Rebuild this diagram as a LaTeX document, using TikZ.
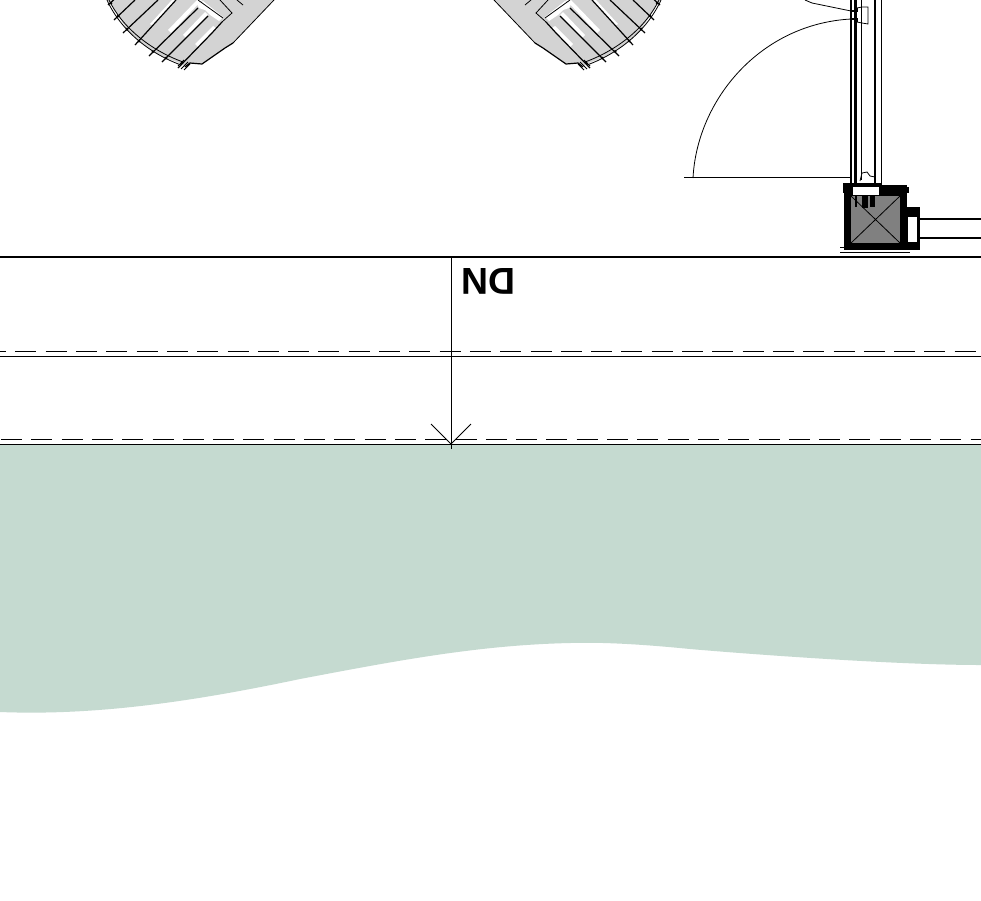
\documentclass[tikz,border=0pt]{standalone}
\usepackage{fontspec}
\setmainfont{Liberation Sans}
\definecolor{ground}{RGB}{197,218,208}
\definecolor{fangray}{RGB}{211,211,211}
\definecolor{colgray}{RGB}{128,128,128}
\newcommand{\fanplan}{%
  % hull
  \fill[fangray] (107,0) -- (111,3) -- (118,16) -- (127,29) -- (139,41) -- (153,51) -- (166,58) -- (182,64) -- (185,67) -- (190,63) -- (202,64) -- (225,48) -- (233,43) -- (274,0) -- cycle;
  \draw[thinline] (274,0) -- (233,43);
  \draw[midline] (233,43) -- (225,48) -- (202,64) -- (190,63) -- (185,67);
  % arcs
  \draw[thinline] (109,0) .. controls (122,27) and (150,50) .. (183,62);
  \draw[thinline] (107,0) .. controls (120,29) and (148,53) .. (181,65);
  % white slivers
  \fill[white] (150,24) -- (172,0) -- (176,0) -- (153,26) -- cycle;
  \fill[white] (168,30) -- (197,0) -- (202,0) -- (171,33) -- cycle;
  \fill[white] (183,35) -- (205,12) -- (208,15) -- (186,38) -- cycle;
  \fill[white] (195,44) -- (213,26) -- (216,28) -- (198,47) -- cycle;
  \fill[white] (197,4) -- (203,1) -- (223,17) -- (219,21) -- (210,15) -- (205,10) -- (199,8) -- cycle;
  % tread lines, running just past the arc
  \draw[midline] (108,5) -- (118,-4);
  \draw[midline] (114,20) -- (135,0);
  \draw[midline] (123,33) -- (158,0);
  \draw[midline] (135,45) -- (176,0);
  \draw[midline] (149,56) -- (198,8);
  \draw[midline] (162,62) -- (208,16);
  \draw[midline] (178,68) -- (212,33) -- (222,22);
  % knots where the treads meet the arc
  \fill (111,3) circle (1.5pt);
  \fill (118,16) circle (1.5pt);
  \fill (127,29) circle (1.5pt);
  \fill (139,41) circle (1.5pt);
  \fill (153,51.5) circle (1.5pt);
  \fill (166,58) circle (1.5pt);
  \fill (182,63) circle (1.5pt);
  % upper treads
  \draw[thinline] (220,0) -- (232,13) -- (222,22);
  \draw[thinline] (237,0) -- (243,5);
  \draw[thinline] (198,0) -- (223,18);
  % tips
  \draw[thinline] (178,66) -- (184,60);
  \draw[thinline] (181,69) -- (188,62);
  \draw[thinline] (184,70) -- (190,64);
}
\tikzset{
  thinline/.style={draw=black,line width=0.8pt},
  midline/.style={draw=black,line width=1.2pt},
  dashA/.style={draw=black,line width=0.9pt,dash pattern=on 21pt off 9.3pt,dash phase=14.9pt},
  dashB/.style={draw=black,line width=0.9pt,dash pattern=on 21pt off 9.3pt,dash phase=29.3pt},
  dnlabel/.style={font=\fontsize{37.5}{40}\selectfont\bfseries,rotate=180,inner sep=0pt}
}
\begin{document}
\begin{tikzpicture}[x=1pt,y=-1pt]
\useasboundingbox (0,0) rectangle (981,900);
\clip (0,0) rectangle (981,900);
\fill[white] (0,0) rectangle (981,900);

% ground
\fill[ground] (0,444) -- (981,444) -- (981,665)
  .. controls (900,665) and (760,655) .. (690,649)
  .. controls (640,644) and (600,642) .. (570,643)
  .. controls (480,645) and (400,660) .. (300,679)
  .. controls (200,700) and (100,716) .. (0,712) -- cycle;

% fans
\fanplan
\begin{scope}[xshift=768pt,xscale=-1]
\fanplan
\end{scope}

% stair lines
\coordinate (wl) at (0,257);
\coordinate (wr) at (981,257);
\coordinate (a1) at (0,351.5);
\coordinate (a2) at (981,351.5);
\coordinate (b1) at (0,356);
\coordinate (b2) at (981,356);
\coordinate (c1) at (0,439.5);
\coordinate (c2) at (981,439.5);
\coordinate (d1) at (0,444);
\coordinate (d2) at (981,444);
\coordinate (up) at (451,257);
\coordinate (dn) at (451,449);
\coordinate (tipL) at (431,424);
\coordinate (tipR) at (471,424);
\coordinate (tip) at (451,444);
\draw[line width=1.5pt] (wl) -- (wr);
\draw[dashA] (a1) -- (a2);
\draw[thinline] (b1) -- (b2);
\draw[dashB] (c1) -- (c2);
\draw[thinline] (d1) -- (d2);
\draw[thinline] (up) -- (dn);
\draw[thinline] (tipL) -- (tip) -- (tipR);
\node[dnlabel] (dnl) at (488,281.5) {DN};

% door swing
\draw[thinline] (684,177) -- (851,177);
\draw[thinline] (693,178) .. controls (697,100) and (760,24) .. (851,19);
\draw[thinline] (805,0) -- (812,3) -- (851,11);
% frame verticals
\draw[thinline] (850,0) -- (850,184);
\draw[thinline] (851.7,0) -- (851.7,184);
\draw[thinline] (854,0) -- (854,184);
\draw[line width=1.6pt] (856,0) -- (856,184);
\draw[thinline] (861.3,0) -- (861.3,180);
\draw[line width=2pt] (875,0) -- (875,184);
\draw[thinline] (881,0) -- (881,184);
% handle
\draw[thinline] (857,8) -- (862,7) -- (868,7) -- (868,24) -- (862,23) -- (857,22);
\draw[line width=1.5pt] (857,8) -- (857,11) -- (851,11);
\draw[line width=1.5pt] (857,22) -- (857,19) -- (851,19);
% squiggle
\draw[thinline] (860,181) -- (862,173) -- (867,172) -- (870,176) -- (875,177);

% column
\fill[black] (844,185) rectangle (907,250);
\fill[colgray] (851,196) rectangle (900,243);
\draw[thinline] (851,196) -- (900,243);
\draw[thinline] (900,196) -- (851,243);
\fill[black] (843,183) rectangle (853,193);
\fill[black] (850,183) rectangle (882,187);
\fill[black] (879,186) rectangle (897,196);
\fill[black] (898,187) rectangle (909,193);
\fill[white] (853,187) rectangle (879,195);
\fill[black] (855,196) rectangle (857,207);
\fill[black] (862,196) rectangle (868,208);
\fill[black] (870,196) rectangle (875,207);
% side bump
\fill[black] (906,207) rectangle (920,250);
\fill[white] (908,217) rectangle (917,242);
\draw[line width=1.6pt] (917,219) -- (981,219);
\draw[line width=1.6pt] (917,238) -- (981,238);
\draw[thinline] (840,247) -- (846,247);
\draw[thinline] (840,252) -- (910,252);
\end{tikzpicture}
\end{document}
